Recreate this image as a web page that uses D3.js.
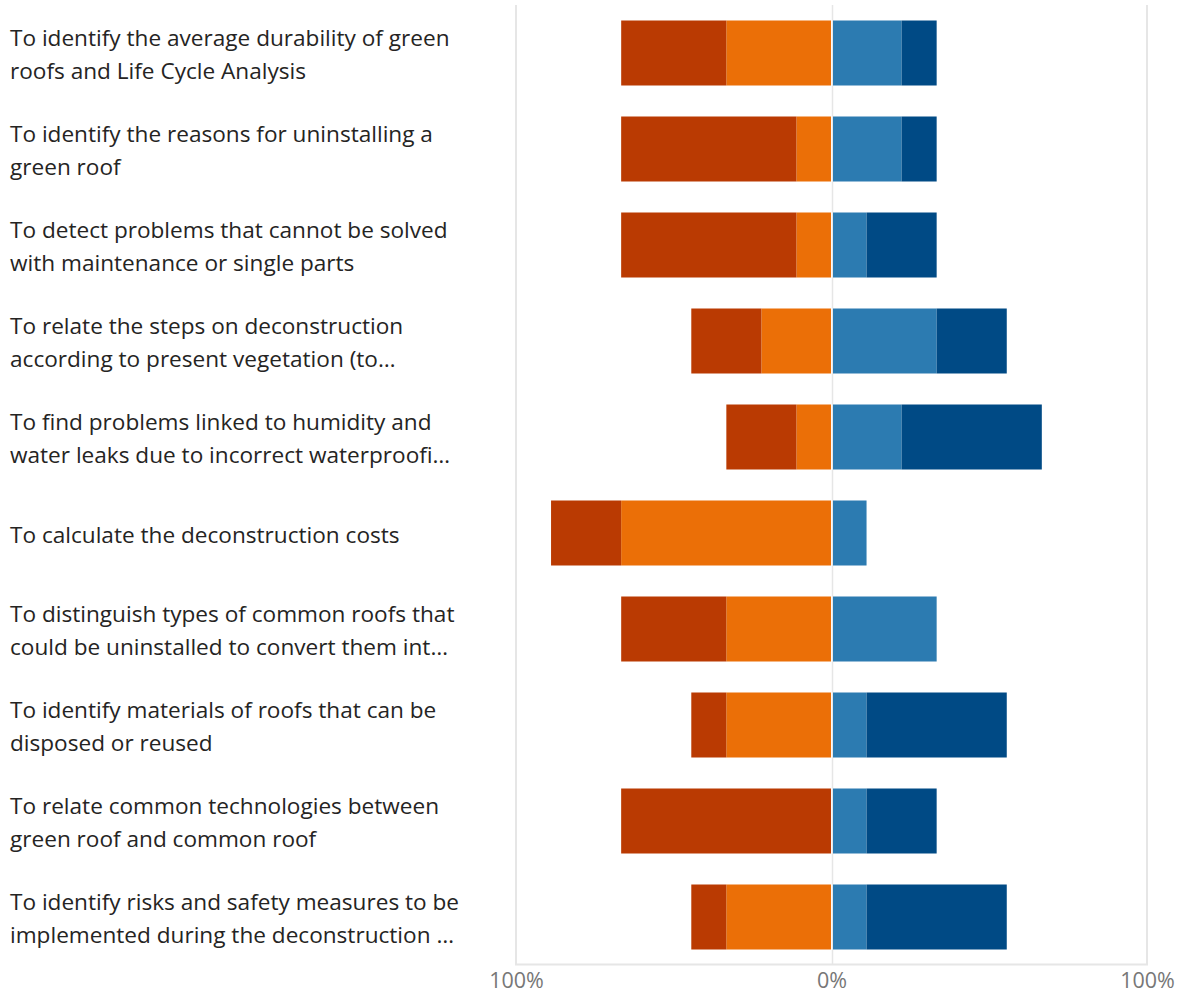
<!DOCTYPE html>
<html>
<head>
<meta charset="utf-8">
<script src="https://cdn.jsdelivr.net/npm/d3@7"></script>
<style>
  html, body { margin: 0; padding: 0; background: #fff; }
  svg { display: block; font-family: "Open Sans", "Noto Sans", sans-serif; }
</style>
</head>
<body>
<svg id="chart" width="1186" height="996"></svg>
<script>
// Survey items (wrapped lines separated by \n)
const categories = [
  "To identify the average durability of green\nroofs and Life Cycle Analysis",
  "To identify the reasons for uninstalling a\ngreen roof",
  "To detect problems that cannot be solved\nwith maintenance or single parts",
  "To relate the steps on deconstruction\naccording to present vegetation (to…",
  "To find problems linked to humidity and\nwater leaks due to incorrect waterproofi…",
  "To calculate the deconstruction costs",
  "To distinguish types of common roofs that\ncould be uninstalled to convert them int…",
  "To identify materials of roofs that can be\ndisposed or reused",
  "To relate common technologies between\ngreen roof and common roof",
  "To identify risks and safety measures to be\nimplemented during the deconstruction …"
];

// Share of answers per item (%), two negative and two positive levels
const stronglyNegative = [33.33, 55.56, 55.56, 22.22, 22.22, 22.22, 33.33, 11.11, 66.67, 11.11];
const negative         = [33.33, 11.11, 11.11, 22.22, 11.11, 66.67, 33.33, 33.33, 0.00, 33.33];
const positive         = [22.22, 22.22, 11.11, 33.33, 22.22, 11.11, 33.33, 11.11, 11.11, 11.11];
const stronglyPositive = [11.11, 11.11, 22.22, 22.22, 44.44, 0.00, 0.00, 44.44, 22.22, 44.44];

const tickValues = [-100, 0, 100];

const colors = {
  stronglyNegative: "#BA3A02",
  negative: "#EB6F07",
  positive: "#2C7BB1",
  stronglyPositive: "#004A85"
};

const svg = d3.select("#chart");

const x = d3.scaleLinear().domain([-100, 100]).range([516, 1147]);
const y = d3.scaleBand()
  .domain(categories)
  .range([5, 965])
  .paddingInner(31 / 96)
  .paddingOuter(31 / 192);

const x0 = x(0);

// Grid lines
svg.append("g")
  .selectAll("line")
  .data(tickValues)
  .join("line")
  .attr("x1", d => x(d) + (d === 0 ? 1 : 0))
  .attr("x2", d => x(d) + (d === 0 ? 1 : 0))
  .attr("y1", 5)
  .attr("y2", 965)
  .attr("stroke", "#e6e6e6")
  .attr("stroke-width", d => d === 0 ? 1.5 : 2);

svg.append("line")
  .attr("x1", x(-100) - 1)
  .attr("x2", x(100) + 1)
  .attr("y1", 964.5)
  .attr("y2", 964.5)
  .attr("stroke", "#e6e6e6")
  .attr("stroke-width", 2);

// Build segments: negative levels stack leftwards from zero, positive rightwards
const segments = [];
categories.forEach((c, i) => {
  const n1 = negative[i], n2 = stronglyNegative[i];
  const p1 = positive[i], p2 = stronglyPositive[i];
  segments.push({ cat: c, from: -n1, to: 0, key: "negative" });
  segments.push({ cat: c, from: -n1 - n2, to: -n1, key: "stronglyNegative" });
  segments.push({ cat: c, from: 0, to: p1, key: "positive" });
  segments.push({ cat: c, from: p1, to: p1 + p2, key: "stronglyPositive" });
});

svg.append("g")
  .selectAll("rect")
  .data(segments.filter(s => s.to - s.from > 0))
  .join("rect")
  .attr("x", d => {
    const a = x(d.from);
    return d.from >= 0 ? Math.max(a, x0 + 1.5) : a;
  })
  .attr("width", d => {
    let a = x(d.from), b = x(d.to);
    if (d.from >= 0) a = Math.max(a, x0 + 1.5);
    if (d.to <= 0) b = Math.min(b, x0 - 0.5);
    return Math.max(0, b - a);
  })
  .attr("y", d => y(d.cat))
  .attr("height", y.bandwidth())
  .attr("fill", d => colors[d.key]);

// Category labels
const labels = svg.append("g")
  .selectAll("text")
  .data(categories)
  .join("text")
  .attr("x", 10)
  .attr("font-size", 22.6)
  .attr("fill", "#252423");

labels.each(function (d) {
  const lines = d.split("\n");
  const c = y(d) + y.bandwidth() / 2;
  d3.select(this).selectAll("tspan")
    .data(lines)
    .join("tspan")
    .attr("x", 10)
    .attr("y", (l, i) => c + 9.5 + (i - (lines.length - 1) / 2) * 33)
    .text(l => l);
});

// Bottom axis with percentage labels
const axis = d3.axisBottom(x)
  .tickValues(tickValues)
  .tickSize(0)
  .tickPadding(0)
  .tickFormat(d => Math.abs(d) + "%");

const gx = svg.append("g")
  .attr("transform", "translate(0,988)")
  .call(axis);
gx.select(".domain").remove();
gx.selectAll("text")
  .attr("font-family", "\"Open Sans\", \"Noto Sans\", sans-serif")
  .attr("font-size", 21.5)
  .attr("fill", "#777777")
  .attr("dy", 0);
</script>
</body>
</html>
